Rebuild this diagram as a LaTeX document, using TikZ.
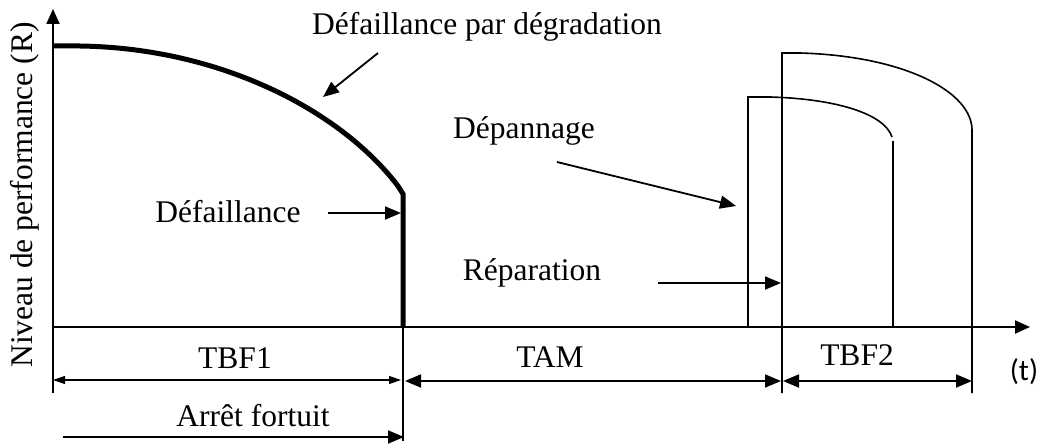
\documentclass[tikz,border=0pt]{standalone}
\usepackage{fontspec}
\setmainfont{Liberation Serif}
\newfontfamily\calfont{Carlito}
\usetikzlibrary{arrows.meta}
\begin{document}
\begin{tikzpicture}[x=1pt,y=-1pt,
  lbl/.style={font=\fontsize{31.5}{36}\selectfont, inner sep=0pt, anchor=base},
  axisline/.style={line width=2pt, -{Triangle[length=15pt,width=13pt]}},
  thinline/.style={line width=1.6pt},
  thickline/.style={line width=5pt},
  bigarr/.style={line width=1.8pt, -{Triangle[length=16pt,width=13pt]}},
  dimarr/.style={line width=1.8pt, {Triangle[length=16pt,width=13pt]}-{Triangle[length=16pt,width=13pt]}},
  smalldim/.style={line width=1.2pt, {Triangle[length=12pt,width=8pt]}-{Triangle[length=12pt,width=8pt]}},
]
\useasboundingbox (0,0) rectangle (1044,444);
% axes
\coordinate (o) at (53,393);
\coordinate (ytop) at (53,9);
\coordinate (x0) at (53,327);
\coordinate (xend) at (1030,327);
\draw[axisline] (o) -- (ytop);
\draw[axisline] (x0) -- (xend);
% thick degradation curve
\draw[thickline] (53,46) -- (80,46) .. controls (220,48) and (340,110) .. (398,186) -- (403,194) -- (403,327);
\draw[thinline] (403,327) -- (403,441);
% repaired curves
\draw[thinline] (748,327) -- (748,97) -- (770,97) .. controls (840,99) and (885,115) .. (892,137);
\draw[thinline] (893,141) -- (893,327);
\draw[thinline] (782,393) -- (782,53) -- (800,53) .. controls (905,56) and (972,92) .. (972,130) -- (972,393);
% dimension arrows
\coordinate (t1a) at (53,380);
\coordinate (t1b) at (401,380);
\coordinate (ta) at (405,381);
\coordinate (tb) at (781,381);
\coordinate (t2a) at (783,381);
\coordinate (t2b) at (972,381);
\draw[smalldim] (t1a) -- (t1b);
\draw[dimarr] (ta) -- (tb);
\draw[dimarr] (t2a) -- (t2b);
\coordinate (afa) at (63,437);
\coordinate (afb) at (404,437);
\draw[bigarr] (afa) -- (afb);
% labels
\node[lbl] (tbf1) at (235,368) {TBF1};
\node[lbl] (tam) at (550,367) {TAM};
\node[lbl] (tbf2) at (857,365) {TBF2};
\node[lbl] (arret) at (253,426) {Arrêt fortuit};
\node[font=\calfont\fontsize{30}{34}\selectfont, inner sep=0pt] (t) at (1024,372) {(t)};
\node[lbl, rotate=90] (ylab) at (32,195) {Niveau de performance (R)};
\node[lbl] (deg) at (487,35) {Défaillance par dégradation};
\node[lbl] (def) at (228,222) {Défaillance};
\node[lbl] (dep) at (524,138) {Dépannage};
\node[lbl] (rep) at (532,280) {Réparation};
% label arrows
\coordinate (dega) at (378,53);
\coordinate (degb) at (323,97);
\draw[bigarr] (dega) -- (degb);
\coordinate (defa) at (328,213);
\coordinate (defb) at (401,213);
\draw[bigarr] (defa) -- (defb);
\coordinate (depa) at (557,162);
\coordinate (depb) at (736,206);
\draw[bigarr] (depa) -- (depb);
\coordinate (repa) at (658,283);
\coordinate (repb) at (781,283);
\draw[bigarr] (repa) -- (repb);
\end{tikzpicture}
\end{document}
